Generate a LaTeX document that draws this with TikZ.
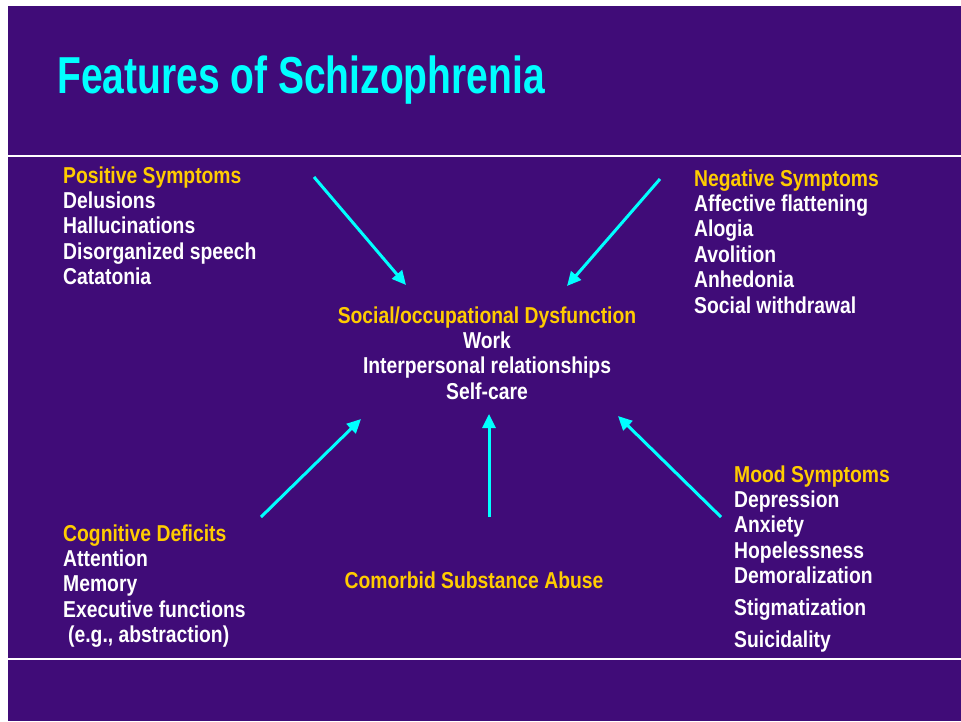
\documentclass[tikz,border=0pt]{standalone}
\usepackage{fontspec}
\setmainfont{Liberation Sans}[FakeStretch=0.84]
\newfontfamily\titlefont{Liberation Sans}[FakeStretch=0.75]
\usepackage{tikz}
\usetikzlibrary{arrows.meta,positioning}
\definecolor{slidebg}{RGB}{64,12,120}
\definecolor{headgold}{RGB}{255,204,0}
\definecolor{linkcyan}{RGB}{0,255,255}
\tikzset{
  group/.style={text=white,inner sep=0pt,anchor=base west,align=left,
    font=\bfseries\fontsize{23}{25.4}\selectfont},
  link/.style={-{Triangle[length=14pt,width=13pt]},line width=3pt,color=linkcyan}
}
\newcommand{\head}[1]{\textcolor{headgold}{#1}}

\begin{document}
\begin{tikzpicture}[x=1pt,y=-1pt]
\useasboundingbox (0,0) rectangle (961,721);
\fill[slidebg] (8,6) rectangle (961,721);
\draw[white,line width=1.5pt] (8,156) -- (961,156);
\draw[white,line width=1.5pt] (8,659) -- (961,659);
\node[anchor=base west,inner sep=0pt,text=linkcyan,font=\titlefont\bfseries\fontsize{52}{60}\selectfont] (title) at (57,93) {Features of Schizophrenia};

% groups sit on the baseline of their last line
\node[group] (positive) at (63,284.6) {\head{Positive Symptoms}\\Delusions\\Hallucinations\\Disorganized speech\\Catatonia};
\node[group] (negative) at (694,313) {\head{Negative Symptoms}\\Affective flattening\\Alogia\\Avolition\\Anhedonia\\Social withdrawal};
\node[group,anchor=base,align=center] (social) at (487,399.2) {\head{Social/occupational Dysfunction}\\Work\\Interpersonal relationships\\Self-care};
\node[group] (cognitive) at (63,642.6) {\head{Cognitive Deficits}\\Attention\\Memory\\Executive functions\\\hspace{5pt}(e.g., abstraction)};
\node[group] (mood) at (734,647.4) {\head{Mood Symptoms}\\Depression\\Anxiety\\Hopelessness\\Demoralization\\[6.5pt]Stigmatization\\[6.5pt]Suicidality};
\node[group,anchor=base,text=headgold] (comorbid) at (474,588) {Comorbid Substance Abuse};

% arrow ends
\coordinate (posA) at (314,177);   \coordinate (posB) at (406,285);
\coordinate (negA) at (660,179);   \coordinate (negB) at (567,286);
\coordinate (cogA) at (261,517);   \coordinate (cogB) at (361,419);
\coordinate (comA) at (489,517);   \coordinate (comB) at (489,414);
\coordinate (moodA) at (721,517);  \coordinate (moodB) at (618,416);
\draw[link] (posA) -- (posB);
\draw[link] (negA) -- (negB);
\draw[link] (cogA) -- (cogB);
\draw[link] (comA) -- (comB);
\draw[link] (moodA) -- (moodB);
\end{tikzpicture}
\end{document}
